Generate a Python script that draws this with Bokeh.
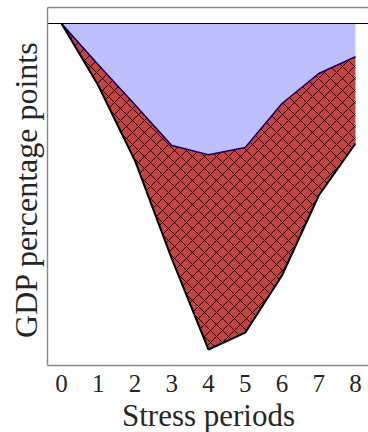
import math
from bokeh.plotting import figure
from bokeh.models import Range1d, Label, LabelSet, ColumnDataSource
from bokeh.embed import file_html
from bokeh.resources import INLINE

# Stress scenario paths (GDP deviation, percentage points)
periods = [0, 1, 2, 3, 4, 5, 6, 7, 8]
upper_path = [0.0, -1.03, -2.03, -3.05, -3.28, -3.10, -2.00, -1.25, -0.83]
lower_path = [0.0, -1.55, -3.43, -5.88, -8.15, -7.73, -6.30, -4.30, -3.00]
tick_values = [0, 1, 2, 3, 4, 5, 6, 7, 8]
tick_labels = [str(t) for t in tick_values]

FONT = "Liberation Serif"
TEXT = "#262626"
SPINE = "#8a8a8a"

# Axes box (data units); the drawing frame fills the whole canvas so the
# hand-drawn spines and texts around the box are not clipped
X_LO, X_HI = -0.381, 8.354
Y_LO, Y_HI = -8.55, 0.4

p = figure(width=368, height=432, output_backend="svg", toolbar_location=None,
           x_range=Range1d(-1.660, 8.354), y_range=Range1d(-10.225, 0.575),
           min_border_left=0, min_border_right=0, min_border_top=0,
           min_border_bottom=0)
p.axis.visible = False
p.outline_line_color = None
p.grid.visible = False
p.background_fill_color = "white"
p.border_fill_color = "white"

# Band between the zero line and the milder path
p.varea(x=periods, y1=[0.0] * len(periods), y2=upper_path, fill_color="#bfbfff")

# Cross-hatched band between the two paths
band_x = periods + periods[::-1]
band_y = upper_path + lower_path[::-1]
p.patch(band_x, band_y, fill_color="#c24444", line_color=None,
        hatch_pattern="diagonal_cross", hatch_scale=12, hatch_color="black",
        hatch_weight=1, hatch_alpha=0.9)

p.line(periods, upper_path, line_color="#000080", line_width=1.5)
p.line(periods, lower_path, line_color="black", line_width=2)

# Zero line
p.segment(x0=[X_LO], y0=[0], x1=[X_HI + 1], y1=[0], line_color="black", line_width=1.2)

# Spines: left, top, bottom
p.segment(x0=[X_LO, X_LO, X_LO], y0=[Y_LO, Y_HI, Y_LO],
          x1=[X_LO, X_HI + 1, X_HI + 1], y1=[Y_HI, Y_HI, Y_LO],
          line_color=SPINE, line_width=1.5)

# Period tick labels under the box
tick_src = ColumnDataSource(dict(x=tick_values, text=tick_labels,
                                 y=[41] * len(tick_values)))
p.add_layout(LabelSet(x="x", y="y", text="text", source=tick_src,
                      x_units="data", y_units="screen",
                      text_font=FONT, text_font_size="25px", text_color=TEXT,
                      text_align="center", text_baseline="alphabetic"))

# Axis titles
p.add_layout(Label(x=208, y=17, x_units="screen", y_units="screen",
                   text="Stress periods", text_font=FONT, text_font_size="31px",
                   text_color=TEXT, text_align="center", text_baseline="alphabetic"))
p.add_layout(Label(x=25, y=243, x_units="screen", y_units="screen",
                   text="GDP percentage points", text_font=FONT,
                   text_font_size="32px", text_color=TEXT, angle=math.pi / 2,
                   text_align="center", text_baseline="alphabetic"))

open("out.html", "w").write(file_html(p, INLINE))
